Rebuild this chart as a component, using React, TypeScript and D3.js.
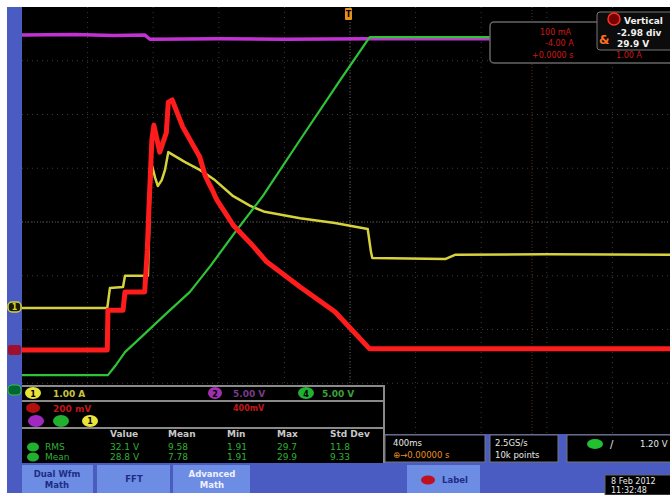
import React from "react";
import * as d3 from "d3";

// time in divisions (-5..5), value in divisions (-4..4)
const magentaTrace: [number, number][] = [
  [-5.0, 3.48], [-4.2, 3.49], [-3.6, 3.47], [-3.13, 3.48], [-3.05, 3.40],
  [-2.0, 3.41], [-1.0, 3.40], [0.3, 3.41], [4.9, 3.41],
];
const greenTrace: [number, number][] = [
  [-5.0, -2.85], [-3.69, -2.85], [-3.58, -2.68], [-3.43, -2.42], [-3.2, -2.16],
  [-2.79, -1.69], [-2.44, -1.3], [-2.13, -0.82], [-1.75, -0.19], [-1.33, 0.48],
  [-0.76, 1.53], [-0.15, 2.64], [0.3, 3.44], [4.9, 3.44],
];
const yellowTrace: [number, number][] = [
  [-5.0, -1.6], [-3.7, -1.6], [-3.66, -1.23], [-3.46, -1.21], [-3.43, -1.0],
  [-3.13, -1.0], [-3.08, -1.0], [-3.05, 0.41], [-3.02, 1.06], [-2.97, 0.82],
  [-2.93, 0.67], [-2.87, 0.78], [-2.82, 0.97], [-2.77, 1.3], [-2.52, 1.12],
  [-2.29, 0.97], [-2.06, 0.78], [-1.78, 0.48], [-1.52, 0.3], [-1.3, 0.19],
  [-0.76, 0.07], [-0.23, -0.02], [0.27, -0.13], [0.32, -0.56], [0.34, -0.67],
  [1.45, -0.69], [1.6, -0.61], [3.0, -0.6], [4.9, -0.61],
];
const redTrace: [number, number][] = [
  [-5.0, -2.38], [-3.7, -2.38], [-3.69, -1.64], [-3.46, -1.64], [-3.43, -1.3],
  [-3.13, -1.3], [-3.09, -0.52], [-3.06, 0.41], [-3.02, 1.53], [-2.99, 1.8],
  [-2.9, 1.3], [-2.8, 1.66], [-2.77, 2.23], [-2.71, 2.27], [-2.55, 1.77],
  [-2.29, 1.21], [-2.21, 0.87], [-2.16, 0.74], [-2.1, 0.6], [-2.03, 0.41],
  [-1.78, -0.06], [-1.52, -0.39], [-1.27, -0.74], [-0.76, -1.21], [-0.23, -1.67],
  [0.3, -2.36], [4.9, -2.36],
];

const headers = ["Value", "Mean", "Min", "Max", "Std Dev"];
const measRows = [
  { name: "RMS", vals: ["32.1 V", "9.58", "1.91", "29.7", "11.8"] },
  { name: "Mean", vals: ["28.8 V", "7.78", "1.91", "29.9", "9.33"] },
];
const headerX = [110, 168, 227, 277, 330];

export default function App() {
  const x = d3.scaleLinear().domain([-5, 5]).range([22, 678]);
  const y = d3.scaleLinear().domain([4, -4]).range([7, 437]);
  const line = d3
    .line<[number, number]>()
    .x((d) => x(d[0]))
    .y((d) => y(d[1]));

  const blue = "#4a5cc2";
  const btn = "#6d8de4";
  const gridX = d3.range(-4, 5);
  const gridY = d3.range(-3, 4);
  const font = "DejaVu Sans, Arial, sans-serif";

  return (
    <div style={{ position: "fixed", left: 0, top: 0 }}>
      <svg width={670} height={495} style={{ display: "block" }} fontFamily={font}>
        <defs>
          <clipPath id="plot">
            <rect x={22} y={7} width={648} height={428} />
          </clipPath>
          <filter id="soft" x="-5%" y="-5%" width="110%" height="110%">
            <feGaussianBlur stdDeviation={0.6} />
          </filter>
        </defs>
        <rect x={0} y={0} width={670} height={495} fill="#fff" />
        <rect x={7} y={7} width={663} height={486} fill={blue} />
        <rect x={22} y={7} width={648} height={428} fill="#000" />

        {/* graticule */}
        <g stroke="#3c3c3c" strokeWidth={1} strokeDasharray="1 4">
          {gridX.map((g) => (
            <line key={"gx" + g} x1={x(g)} x2={x(g)} y1={7} y2={435} />
          ))}
          {gridY.map((g) => (
            <line key={"gy" + g} x1={22} x2={670} y1={y(g)} y2={y(g)} />
          ))}
        </g>
        <g stroke="#555" strokeWidth={1} strokeDasharray="1 2">
          <line x1={x(0)} x2={x(0)} y1={7} y2={435} />
          <line x1={22} x2={670} y1={y(0)} y2={y(0)} />
        </g>
        <line x1={532} x2={532} y1={7} y2={435} stroke="#4a3418" strokeDasharray="1 2" />

        {/* traces */}
        <g clipPath="url(#plot)" fill="none" strokeLinejoin="round" filter="url(#soft)">
          <path d={line(magentaTrace) || ""} stroke="#c233d2" strokeWidth={3.5} />
          <path d={line(yellowTrace) || ""} stroke="#d6d23c" strokeWidth={2.5} />
          <path d={line(greenTrace) || ""} stroke="#2fc437" strokeWidth={2.2} />
          <path d={line(redTrace) || ""} stroke="#ff1c1c" strokeWidth={5} />
        </g>

        {/* trigger marker */}
        <rect x={345} y={8} width={7} height={12} rx={1} fill="#e8901c" />
        <text x={348.5} y={17} fontSize={8} textAnchor="middle" fill="#000" fontWeight="bold">T</text>

        {/* ground markers */}
        <rect x={8} y={302} width={13} height={10} rx={4} fill="#1a1a00" stroke="#d6d23c" strokeWidth={1.5} />
        <text x={14.5} y={310} fontSize={8} textAnchor="middle" fill="#d6d23c" fontWeight="bold">1</text>
        <rect x={8} y={345} width={13} height={10} rx={2} fill="#a0102c" />
        <rect x={8} y={385} width={13} height={10} rx={4} fill="#063" stroke="#2fc437" strokeWidth={1} />

        {/* top-right info box */}
        <rect x={490} y={22} width={185} height={41} rx={4} fill="#000" stroke="#666" strokeWidth={1.5} />
        <g fill="#d01818" fontSize={8}>
          <text x={540} y={35}>100 mA</text>
          <text x={545} y={46}>-4.00 A</text>
          <text x={532} y={58}>+0.0000 s</text>
          <text x={616} y={58}>1.00 A</text>
        </g>
        <rect x={597} y={12} width={76} height={38} rx={3} fill="#0c0c0c" stroke="#777" strokeWidth={1} />
        <circle cx={614} cy={19} r={6} fill="#700" stroke="#ff3020" strokeWidth={1.5} />
        <text x={599} y={44} fontSize={12} fill="#ff7020" fontWeight="bold">&amp;</text>
        <g fill="#f0f0f0" fontSize={9} fontWeight="bold">
          <text x={624} y={24}>Vertical</text>
          <text x={617} y={36}>-2.98 div</text>
          <text x={617} y={47}>29.9 V</text>
        </g>

        {/* readout panel left */}
        <rect x={22} y={385} width={363} height={78} fill="#000" />
        <g stroke="#8a8a8a" strokeWidth={2}>
          <line x1={22} x2={385} y1={386} y2={386} />
          <line x1={22} x2={385} y1={401} y2={401} />
          <line x1={22} x2={385} y1={428} y2={428} />
          <line x1={384} x2={384} y1={386} y2={463} />
        </g>
        <g fontSize={9} fontWeight="bold">
          <ellipse cx={33} cy={393} rx={8} ry={6} fill="#e8e43c" />
          <text x={33} y={396.5} fontSize={8} textAnchor="middle" fill="#000">1</text>
          <text x={53} y={397} fill="#c8c440">1.00 A</text>
          <ellipse cx={215} cy={393} rx={7} ry={6} fill="#a030b0" />
          <text x={215} y={396.5} fontSize={8} textAnchor="middle" fill="#000">2</text>
          <text x={233} y={397} fill="#7a3a8a">5.00 V</text>
          <ellipse cx={306} cy={393} rx={8} ry={6} fill="#22b030" />
          <text x={306} y={396.5} fontSize={8} textAnchor="middle" fill="#000">4</text>
          <text x={322} y={397} fill="#3aa03a">5.00 V</text>

          <ellipse cx={33} cy={408} rx={7} ry={5} fill="#b01010" />
          <text x={53} y={412} fill="#c01818">200 mV</text>
          <text x={233} y={411} fill="#c01818" fontSize={8}>400mV</text>

          <ellipse cx={36} cy={421} rx={8} ry={6} fill="#a028c0" />
          <ellipse cx={61} cy={421} rx={8} ry={6} fill="#22b030" />
          <ellipse cx={90} cy={421} rx={8} ry={6} fill="#e8e43c" />
          <text x={90} y={424} fontSize={8} textAnchor="middle" fill="#000">1</text>
        </g>
        <g fontSize={9} fill="#c8c8c8" fontWeight="bold">
          {headers.map((h, i) => (
            <text key={h} x={headerX[i]} y={437}>{h}</text>
          ))}
        </g>
        <g fontSize={9} fill="#2fb035">
          {measRows.map((r, ri) => (
            <g key={r.name}>
              <ellipse cx={33} cy={447 + ri * 10} rx={6} ry={4.5} fill="#22b030" />
              <text x={45} y={450 + ri * 10}>{r.name}</text>
              {r.vals.map((v, i) => (
                <text key={i} x={headerX[i]} y={450 + ri * 10}>{v}</text>
              ))}
            </g>
          ))}
        </g>

        {/* right-bottom status boxes */}
        <rect x={385} y={434} width={285} height={29} fill={blue} />
        <rect x={385} y={435} width={100} height={27} fill="#000" stroke="#777" />
        <rect x={490} y={435} width={68} height={27} fill="#000" stroke="#777" />
        <rect x={567} y={435} width={106} height={27} fill="#000" stroke="#777" />
        <g fontSize={8.5} fill="#e8e8e8">
          <text x={393} y={446}>400ms</text>
          <text x={393} y={458} fill="#e89020">⊕→0.00000 s</text>
          <text x={495} y={446}>2.5GS/s</text>
          <text x={495} y={458}>10k points</text>
          <ellipse cx={595} cy={444} rx={8} ry={5} fill="#22c030" />
          <text x={610} y={448} fontSize={10}>/</text>
          <text x={640} y={447}>1.20 V</text>
        </g>

        {/* buttons */}
        <rect x={22} y={465} width={71} height={28} fill={btn} />
        <rect x={97} y={465} width={73} height={28} fill={btn} />
        <rect x={173} y={465} width={77} height={28} fill={btn} />
        <rect x={407} y={465} width={73} height={28} fill={btn} />
        <g fontSize={8.5} fill="#1e2c86" fontWeight="bold" textAnchor="middle">
          <text x={57} y={477}>Dual Wfm</text>
          <text x={57} y={488}>Math</text>
          <text x={134} y={482}>FFT</text>
          <text x={212} y={477} fill="#f0f0ff">Advanced</text>
          <text x={212} y={488} fill="#f0f0ff">Math</text>
          <text x={455} y={483}>Label</text>
        </g>
        <ellipse cx={428} cy={480} rx={7} ry={4.5} fill="#c01020" />
        <rect x={605} y={475} width={70} height={20} fill="#000" stroke="#666" />
        <g fontSize={8} fill="#e8e8e8">
          <text x={611} y={484}>8 Feb 2012</text>
          <text x={611} y={493}>11:32:48</text>
        </g>
      </svg>
    </div>
  );
}
